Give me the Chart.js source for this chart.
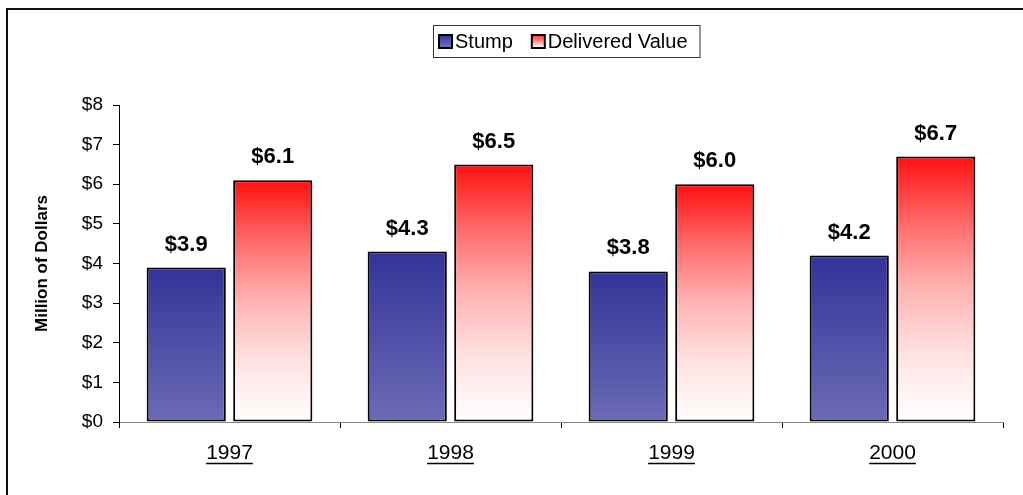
<!DOCTYPE html>
<html>
<head>
<meta charset="utf-8">
<title>Stump vs Delivered Value</title>
<script src="https://cdn.jsdelivr.net/npm/chart.js@4.4.1/dist/chart.umd.min.js"></script>
<style>
  html, body { margin: 0; padding: 0; background: #fff; }
  #wrap { position: relative; width: 1023px; height: 495px; }
</style>
</head>
<body>
<div id="wrap"><canvas id="valueChart" width="1023" height="495"></canvas></div>
<script>
const years = ['1997', '1998', '1999', '2000'];
const stumpValues = [3.9, 4.3, 3.8, 4.2];
const deliveredValues = [6.1, 6.5, 6.0, 6.7];
const yTicks = [0, 1, 2, 3, 4, 5, 6, 7, 8];

const FONT = '"Liberation Sans", Arial, sans-serif';

const blueStops = [[0, '#333399'], [1, '#6b6bb5']];
const redStops = [[0, '#ff1010'], [0.25, '#ff6a6a'], [0.5, '#ffb4b4'], [0.75, '#ffe2e2'], [1, '#ffffff']];

// vertical gradient from the top of each bar down to the zero line
function barGradient(stops) {
    return function (c) {
        const chart = c.chart;
        const y = chart.scales.y;
        if (c.type !== 'data' || !y || !chart.chartArea) return stops[0][1];
        const g = chart.ctx.createLinearGradient(0, y.getPixelForValue(c.parsed.y), 0, y.getPixelForValue(0));
        stops.forEach(s => g.addColorStop(s[0], s[1]));
        return g;
    };
}

const frame = {
    id: 'frame',
    beforeDraw(chart) {
        const ctx = chart.ctx;
        ctx.save();
        ctx.strokeStyle = '#111';
        ctx.lineWidth = 2;
        ctx.beginPath();
        ctx.moveTo(7, chart.height);
        ctx.lineTo(7, 9);
        ctx.lineTo(chart.width, 9);
        ctx.stroke();
        ctx.restore();
    }
};

const valueLabels = {
    id: 'valueLabels',
    afterDatasetsDraw(chart) {
        const ctx = chart.ctx;
        ctx.save();
        ctx.font = 'bold 22px ' + FONT;
        ctx.fillStyle = '#000';
        ctx.textAlign = 'center';
        ctx.textBaseline = 'middle';
        chart.data.datasets.forEach((ds, i) => {
            chart.getDatasetMeta(i).data.forEach((bar, j) => {
                ctx.fillText('$' + ds.data[j].toFixed(1), bar.x, bar.y - 23);
            });
        });
        ctx.restore();
    }
};

// underline the year labels under the x axis
const underline = {
    id: 'underline',
    afterDraw(chart) {
        const ctx = chart.ctx;
        const x = chart.scales.x;
        ctx.save();
        ctx.font = '21px ' + FONT;
        ctx.strokeStyle = '#000';
        ctx.lineWidth = 1.5;
        years.forEach((yr, i) => {
            const cx = x.getPixelForTick(i);
            const w = ctx.measureText(yr).width;
            ctx.beginPath();
            ctx.moveTo(cx - w / 2, 463.5);
            ctx.lineTo(cx + w / 2, 463.5);
            ctx.stroke();
        });
        ctx.restore();
    }
};

// boxed legend centred over the plot
const boxLegend = {
    id: 'boxLegend',
    afterDraw(chart) {
        const ctx = chart.ctx;
        const area = chart.chartArea;
        ctx.save();
        ctx.font = '20px ' + FONT;
        const sw = 13, gap = 3, spacing = 19, padL = 6, padR = 12;
        const items = chart.data.datasets.map(ds => ({
            label: ds.label, top: ds.swatch[0], bottom: ds.swatch[1],
            w: ctx.measureText(ds.label).width
        }));
        let total = padL + padR;
        items.forEach((it, i) => { total += sw + gap + it.w + (i ? spacing : 0); });
        const left = Math.round((area.left + area.right) / 2 + 5 - total / 2);
        const top = 25, h = 32;
        ctx.strokeStyle = '#333';
        ctx.lineWidth = 1;
        ctx.strokeRect(left + 0.5, top + 0.5, total, h);
        let x = left + padL;
        const cy = top + h / 2 + 0.5;
        items.forEach((it, i) => {
            if (i) x += spacing;
            const g = ctx.createLinearGradient(0, cy - sw / 2, 0, cy + sw / 2);
            g.addColorStop(0, it.top);
            g.addColorStop(1, it.bottom);
            ctx.fillStyle = g;
            ctx.fillRect(x, cy - sw / 2, sw, sw);
            ctx.lineWidth = 2;
            ctx.strokeStyle = '#000';
            ctx.strokeRect(x, cy - sw / 2, sw, sw);
            x += sw + gap;
            ctx.fillStyle = '#000';
            ctx.textBaseline = 'middle';
            ctx.fillText(it.label, x, cy + 1);
            x += it.w;
        });
        ctx.restore();
    }
};

new Chart(document.getElementById('valueChart').getContext('2d'), {
    type: 'bar',
    data: {
        labels: years,
        datasets: [{
            label: 'Stump',
            data: stumpValues,
            swatch: ['#333399', '#7777bb'],
            backgroundColor: barGradient(blueStops),
            borderColor: '#000',
            borderWidth: 2,
            borderSkipped: false,
            categoryPercentage: 0.783,
            barPercentage: 0.915
        }, {
            label: 'Delivered Value',
            data: deliveredValues,
            swatch: ['#ff3030', '#ffffff'],
            backgroundColor: barGradient(redStops),
            borderColor: '#000',
            borderWidth: 2,
            borderSkipped: false,
            categoryPercentage: 0.783,
            barPercentage: 0.915
        }]
    },
    options: {
        responsive: false,
        animation: false,
        events: [],
        layout: { padding: { top: 105, right: 20, bottom: 13, left: 0 } },
        plugins: {
            legend: { display: false },
            tooltip: { enabled: false }
        },
        scales: {
            x: {
                afterFit(s) { s.height = 60; },
                border: { color: '#888', width: 1 },
                grid: {
                    offset: true,
                    drawOnChartArea: false,
                    drawTicks: true,
                    tickLength: 6,
                    color: '#000'
                },
                ticks: {
                    color: '#000',
                    padding: 13,
                    font: { family: FONT, size: 21 }
                }
            },
            y: {
                min: 0,
                max: 8,
                afterFit(s) { s.width = 119; },
                afterBuildTicks(s) { s.ticks = yTicks.map(v => ({ value: v })); },
                border: { color: '#000', width: 1 },
                grid: {
                    drawOnChartArea: false,
                    drawTicks: true,
                    tickLength: 6,
                    color: '#000'
                },
                ticks: {
                    color: '#000',
                    padding: 10,
                    font: { family: FONT, size: 19 },
                    callback: v => '$' + v
                },
                title: {
                    display: true,
                    text: 'Million of Dollars',
                    color: '#000',
                    padding: { top: 32, bottom: 0 },
                    font: { family: FONT, size: 17, weight: 'bold' }
                }
            }
        }
    },
    plugins: [frame, valueLabels, underline, boxLegend]
});
</script>
</body>
</html>
